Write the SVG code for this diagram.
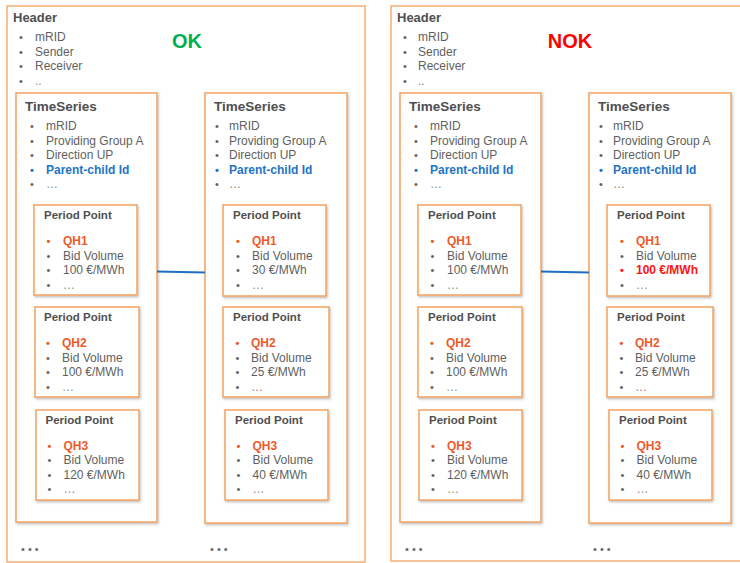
<svg xmlns="http://www.w3.org/2000/svg" width="740" height="563" viewBox="0 0 740 563">
<defs>
<filter id="sh" x="-5%" y="-5%" width="110%" height="110%">
<feDropShadow dx="1" dy="1.5" stdDeviation="0.8" flood-color="#000" flood-opacity="0.25"/>
</filter>
<style>
.box{fill:#fff;stroke:#F5A25F;stroke-width:1.5;filter:url(#sh)}
.outer{fill:#fff;stroke:#F7AE72;stroke-width:1.5}
text{font-family:"Liberation Sans",Arial,sans-serif;font-size:12px;fill:#5f5f5f}
.h{font-weight:bold;font-size:13px;fill:#4f4f4f}
.ts{font-weight:bold;font-size:13.5px;fill:#4f4f4f}
.pp{font-weight:bold;font-size:11.5px;fill:#4f4f4f}
.bu{text-anchor:middle;font-size:11px}
.qh{font-weight:bold;fill:#EE5A2B}
.pc{font-weight:bold;fill:#1F74C4}
.bad{font-weight:bold;fill:#FF1414}
.el{fill:#8a8a8a}
.ok{font-weight:bold;font-size:20px;fill:#00B050;text-anchor:middle}
.nok{font-weight:bold;font-size:20px;fill:#FF0000;text-anchor:middle}
.dots{font-size:11px;fill:#666}
.conn{stroke:#1F6FC0;stroke-width:2.2;fill:none}
</style>
</defs>

<!-- LEFT PANEL (OK) -->
<g id="header-ok">
<rect class="outer" x="7" y="6" width="358" height="556"/>
<text class="h" x="13" y="21.5">Header</text>
<text class="bu" x="21" y="41">•</text><text x="35" y="41">mRID</text>
<text class="bu" x="21" y="55.5">•</text><text x="35" y="55.5">Sender</text>
<text class="bu" x="21" y="70">•</text><text x="35" y="70">Receiver</text>
<text class="bu" x="21" y="84.5">•</text><text class="el" x="35" y="84.5">..</text>
<text class="ok" x="187" y="48">OK</text>
<text class="dots" x="21" y="553">• • •</text>
<text class="dots" x="210" y="553">• • •</text>
</g>

<g id="ts-ok-1">
<rect class="box" x="16" y="93" width="141" height="429"/>
<text class="ts" x="25" y="110.5">TimeSeries</text>
<text class="bu" x="32" y="130">•</text><text x="46" y="130">mRID</text>
<text class="bu" x="32" y="144.5">•</text><text x="46" y="144.5">Providing Group A</text>
<text class="bu" x="32" y="159">•</text><text x="46" y="159">Direction UP</text>
<text class="bu pc" x="32" y="173.5">•</text><text class="pc" x="46" y="173.5">Parent-child Id</text>
<text class="bu" x="32" y="188">•</text><text class="el" x="46" y="188">…</text>
</g>
<g id="pp-ok-1-1">
<rect class="box" x="34" y="205" width="103" height="90"/>
<text class="pp" x="44" y="219">Period Point</text>
<text class="bu qh" x="48.5" y="245">•</text><text class="qh" x="63" y="245">QH1</text>
<text class="bu" x="48.5" y="259.5">•</text><text x="63" y="259.5">Bid Volume</text>
<text class="bu" x="48.5" y="274">•</text><text x="63" y="274">100 €/MWh</text>
<text class="bu" x="48.5" y="288.5">•</text><text class="el" x="63" y="288.5">…</text>
</g>
<g id="pp-ok-1-2">
<rect class="box" x="35" y="307" width="104" height="90"/>
<text class="pp" x="44" y="321">Period Point</text>
<text class="bu qh" x="48" y="347">•</text><text class="qh" x="62" y="347">QH2</text>
<text class="bu" x="48" y="361.5">•</text><text x="62" y="361.5">Bid Volume</text>
<text class="bu" x="48" y="376">•</text><text x="62" y="376">100 €/MWh</text>
<text class="bu" x="48" y="390.5">•</text><text class="el" x="62" y="390.5">…</text>
</g>
<g id="pp-ok-1-3">
<rect class="box" x="36" y="410" width="103" height="90"/>
<text class="pp" x="45.5" y="424">Period Point</text>
<text class="bu qh" x="49.5" y="449.5">•</text><text class="qh" x="63.5" y="449.5">QH3</text>
<text class="bu" x="49.5" y="464">•</text><text x="63.5" y="464">Bid Volume</text>
<text class="bu" x="49.5" y="478.5">•</text><text x="63.5" y="478.5">120 €/MWh</text>
<text class="bu" x="49.5" y="493">•</text><text class="el" x="63.5" y="493">…</text>
</g>

<g id="ts-ok-2">
<rect class="box" x="205" y="93" width="142" height="430"/>
<text class="ts" x="214" y="110.5">TimeSeries</text>
<text class="bu" x="217" y="130">•</text><text x="229" y="130">mRID</text>
<text class="bu" x="217" y="144.5">•</text><text x="229" y="144.5">Providing Group A</text>
<text class="bu" x="217" y="159">•</text><text x="229" y="159">Direction UP</text>
<text class="bu pc" x="217" y="173.5">•</text><text class="pc" x="229" y="173.5">Parent-child Id</text>
<text class="bu" x="217" y="188">•</text><text class="el" x="229" y="188">…</text>
</g>
<g id="pp-ok-2-1">
<rect class="box" x="223" y="205" width="103" height="91"/>
<text class="pp" x="233" y="219">Period Point</text>
<text class="bu qh" x="238" y="245">•</text><text class="qh" x="252" y="245">QH1</text>
<text class="bu" x="238" y="259.5">•</text><text x="252" y="259.5">Bid Volume</text>
<text class="bu" x="238" y="274">•</text><text x="252" y="274">30 €/MWh</text>
<text class="bu" x="238" y="288.5">•</text><text class="el" x="252" y="288.5">…</text>
</g>
<g id="pp-ok-2-2">
<rect class="box" x="223" y="307" width="106" height="90"/>
<text class="pp" x="233" y="321">Period Point</text>
<text class="bu qh" x="237.5" y="347">•</text><text class="qh" x="251" y="347">QH2</text>
<text class="bu" x="237.5" y="361.5">•</text><text x="251" y="361.5">Bid Volume</text>
<text class="bu" x="237.5" y="376">•</text><text x="251" y="376">25 €/MWh</text>
<text class="bu" x="237.5" y="390.5">•</text><text class="el" x="251" y="390.5">…</text>
</g>
<g id="pp-ok-2-3">
<rect class="box" x="225" y="410" width="103" height="90"/>
<text class="pp" x="235" y="424">Period Point</text>
<text class="bu qh" x="238.5" y="449.5">•</text><text class="qh" x="252.5" y="449.5">QH3</text>
<text class="bu" x="238.5" y="464">•</text><text x="252.5" y="464">Bid Volume</text>
<text class="bu" x="238.5" y="478.5">•</text><text x="252.5" y="478.5">40 €/MWh</text>
<text class="bu" x="238.5" y="493">•</text><text class="el" x="252.5" y="493">…</text>
</g>

<!-- RIGHT PANEL (NOK) -->
<g id="header-nok">
<rect class="outer" x="391" y="6" width="358" height="555"/>
<text class="h" x="397" y="21.5">Header</text>
<text class="bu" x="405" y="41">•</text><text x="418" y="41">mRID</text>
<text class="bu" x="405" y="55.5">•</text><text x="418" y="55.5">Sender</text>
<text class="bu" x="405" y="70">•</text><text x="418" y="70">Receiver</text>
<text class="bu" x="405" y="84.5">•</text><text class="el" x="418" y="84.5">..</text>
<text class="nok" x="570" y="48">NOK</text>
<text class="dots" x="405" y="553">• • •</text>
<text class="dots" x="593" y="553">• • •</text>
</g>

<g id="ts-nok-1">
<rect class="box" x="400" y="93" width="141" height="429"/>
<text class="ts" x="409" y="110.5">TimeSeries</text>
<text class="bu" x="416" y="130">•</text><text x="430" y="130">mRID</text>
<text class="bu" x="416" y="144.5">•</text><text x="430" y="144.5">Providing Group A</text>
<text class="bu" x="416" y="159">•</text><text x="430" y="159">Direction UP</text>
<text class="bu pc" x="416" y="173.5">•</text><text class="pc" x="430" y="173.5">Parent-child Id</text>
<text class="bu" x="416" y="188">•</text><text class="el" x="430" y="188">…</text>
</g>
<g id="pp-nok-1-1">
<rect class="box" x="418" y="205" width="103" height="90"/>
<text class="pp" x="428" y="219">Period Point</text>
<text class="bu qh" x="432.5" y="245">•</text><text class="qh" x="447" y="245">QH1</text>
<text class="bu" x="432.5" y="259.5">•</text><text x="447" y="259.5">Bid Volume</text>
<text class="bu" x="432.5" y="274">•</text><text x="447" y="274">100 €/MWh</text>
<text class="bu" x="432.5" y="288.5">•</text><text class="el" x="447" y="288.5">…</text>
</g>
<g id="pp-nok-1-2">
<rect class="box" x="418" y="307" width="104" height="90"/>
<text class="pp" x="428" y="321">Period Point</text>
<text class="bu qh" x="432" y="347">•</text><text class="qh" x="446" y="347">QH2</text>
<text class="bu" x="432" y="361.5">•</text><text x="446" y="361.5">Bid Volume</text>
<text class="bu" x="432" y="376">•</text><text x="446" y="376">100 €/MWh</text>
<text class="bu" x="432" y="390.5">•</text><text class="el" x="446" y="390.5">…</text>
</g>
<g id="pp-nok-1-3">
<rect class="box" x="419" y="410" width="103" height="90"/>
<text class="pp" x="429" y="424">Period Point</text>
<text class="bu qh" x="433" y="449.5">•</text><text class="qh" x="447" y="449.5">QH3</text>
<text class="bu" x="433" y="464">•</text><text x="447" y="464">Bid Volume</text>
<text class="bu" x="433" y="478.5">•</text><text x="447" y="478.5">120 €/MWh</text>
<text class="bu" x="433" y="493">•</text><text class="el" x="447" y="493">…</text>
</g>

<g id="ts-nok-2">
<rect class="box" x="589" y="93" width="142" height="430"/>
<text class="ts" x="598" y="110.5">TimeSeries</text>
<text class="bu" x="601" y="130">•</text><text x="613" y="130">mRID</text>
<text class="bu" x="601" y="144.5">•</text><text x="613" y="144.5">Providing Group A</text>
<text class="bu" x="601" y="159">•</text><text x="613" y="159">Direction UP</text>
<text class="bu pc" x="601" y="173.5">•</text><text class="pc" x="613" y="173.5">Parent-child Id</text>
<text class="bu" x="601" y="188">•</text><text class="el" x="613" y="188">…</text>
</g>
<g id="pp-nok-2-1">
<rect class="box" x="607" y="205" width="103" height="91"/>
<text class="pp" x="617" y="219">Period Point</text>
<text class="bu qh" x="622" y="245">•</text><text class="qh" x="636" y="245">QH1</text>
<text class="bu" x="622" y="259.5">•</text><text x="636" y="259.5">Bid Volume</text>
<text class="bu bad" x="622" y="274">•</text><text class="bad" x="636" y="274">100 €/MWh</text>
<text class="bu" x="622" y="288.5">•</text><text class="el" x="636" y="288.5">…</text>
</g>
<g id="pp-nok-2-2">
<rect class="box" x="607" y="307" width="106" height="90"/>
<text class="pp" x="617" y="321">Period Point</text>
<text class="bu qh" x="621.5" y="347">•</text><text class="qh" x="635" y="347">QH2</text>
<text class="bu" x="621.5" y="361.5">•</text><text x="635" y="361.5">Bid Volume</text>
<text class="bu" x="621.5" y="376">•</text><text x="635" y="376">25 €/MWh</text>
<text class="bu" x="621.5" y="390.5">•</text><text class="el" x="635" y="390.5">…</text>
</g>
<g id="pp-nok-2-3">
<rect class="box" x="609" y="410" width="103" height="90"/>
<text class="pp" x="619" y="424">Period Point</text>
<text class="bu qh" x="622.5" y="449.5">•</text><text class="qh" x="636.5" y="449.5">QH3</text>
<text class="bu" x="622.5" y="464">•</text><text x="636.5" y="464">Bid Volume</text>
<text class="bu" x="622.5" y="478.5">•</text><text x="636.5" y="478.5">40 €/MWh</text>
<text class="bu" x="622.5" y="493">•</text><text class="el" x="636.5" y="493">…</text>
</g>

<g id="connectors">
<line class="conn" x1="157" y1="271.5" x2="205" y2="272.5"/>
<line class="conn" x1="541" y1="271.5" x2="589" y2="272.5"/>
</g>
</svg>
